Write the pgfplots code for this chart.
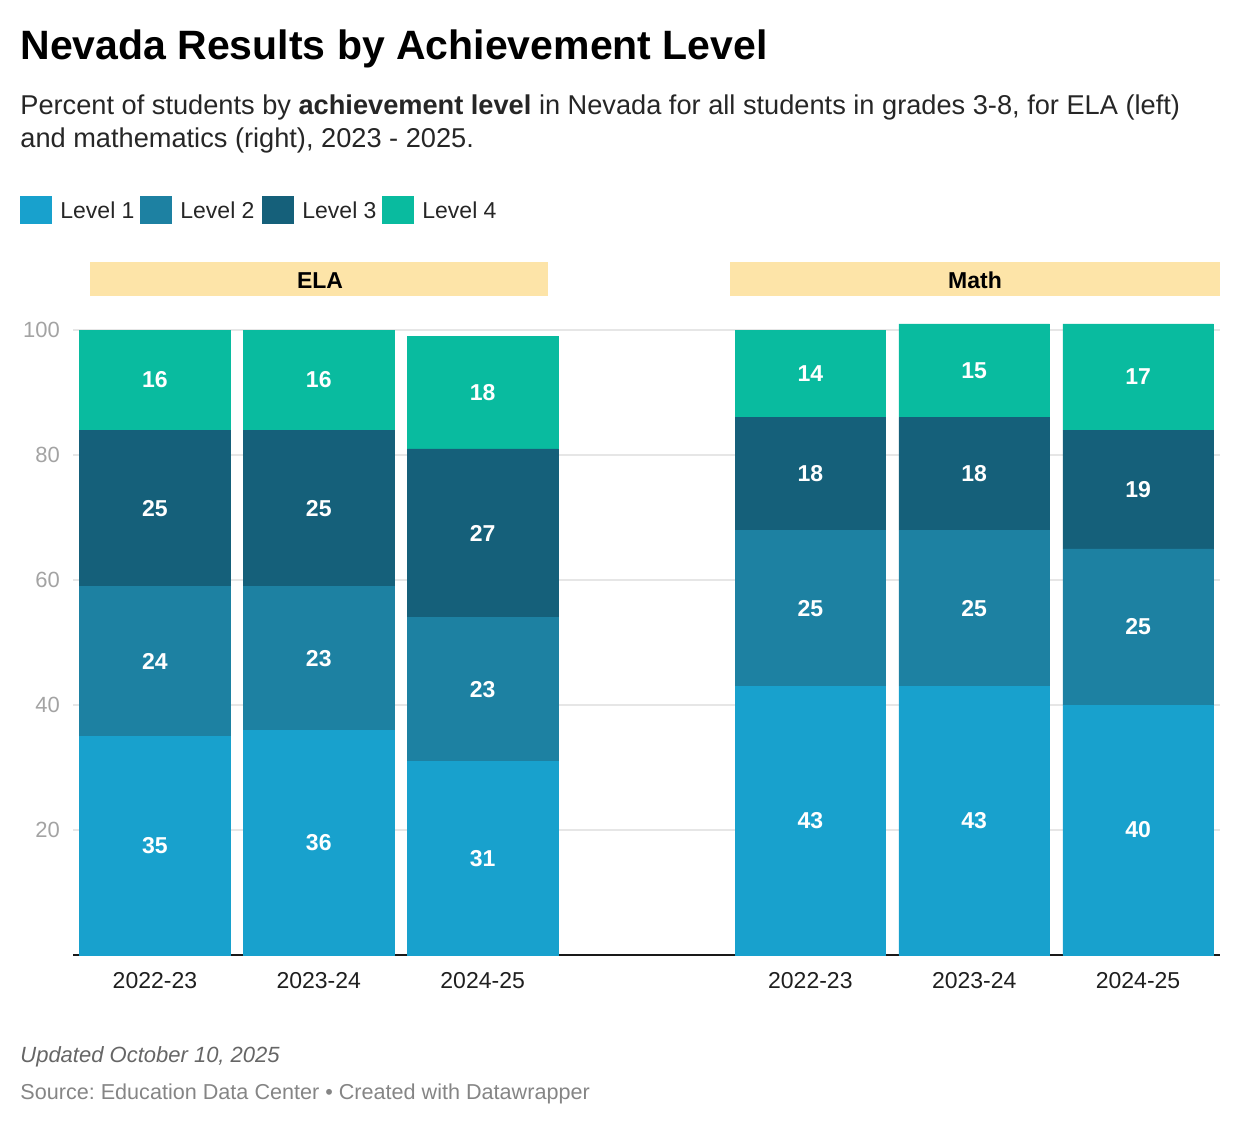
\documentclass[border=0pt]{standalone}
\usepackage{fontspec}
\setmainfont{Liberation Sans}
\usepackage{pgfplots}
\pgfplotsset{compat=1.18}
\usepackage{pgfplotstable}
\frenchspacing

\definecolor{lvA}{HTML}{18A1CD}
\definecolor{lvB}{HTML}{1D81A2}
\definecolor{lvC}{HTML}{15607A}
\definecolor{lvD}{HTML}{09BB9F}
\definecolor{panel}{HTML}{FDE4A8}
\definecolor{tickgray}{HTML}{A3A3A3}
\definecolor{gridgray}{HTML}{E6E6E6}

% x = 0..2 ELA, 4..6 Math ; a..d = level 1..4
\pgfplotstableread{
x  a  b  c  d
0  35 24 25 16
1  36 23 25 16
2  31 23 27 18
4  43 25 18 14
5  43 25 18 15
6  40 25 19 17
}\results

\begin{document}
\begin{tikzpicture}
\begin{axis}[
  at={(36.5pt,-477.5pt)}, anchor=south west,
  scale only axis, width=573.5pt, height=315.625pt,
  xmin=-0.5, xmax=6.5, ymin=0, ymax=101,
  ybar stacked, bar width=75.3pt,
  clip=false,
  axis x line*=bottom, axis y line*=left,
  y axis line style={draw=none},
  x axis line style={line width=1.2pt, color=black!90},
  major tick length=0,
  ytick={20,40,60,80,100},
  xtick={0,1,2,4,5,6},
  xticklabels={2022-23,2023-24,2024-25,2022-23,2023-24,2024-25},
  ymajorgrids, grid style={gridgray, line width=0.8pt},
  /pgf/number format/assume math mode=true,
  yticklabel style={font=\fontsize{11}{13}\selectfont, text=tickgray, xshift=-3pt},
  xticklabel style={font=\fontsize{11.5}{13}\selectfont, text=black!88, yshift=-5pt},
  % stacked bars put these labels in the middle of each segment
  nodes near coords, point meta=explicit symbolic,
  every node near coord/.append style={anchor=center, text=white,
    font=\fontsize{11.5}{13}\selectfont\bfseries},
]
\addplot[fill=lvA, draw=lvA, line width=0.2pt] table[x=x, y=a, meta=a] {\results};
\addplot[fill=lvB, draw=lvB, line width=0.2pt] table[x=x, y=b, meta=b] {\results};
\addplot[fill=lvC, draw=lvC, line width=0.2pt] table[x=x, y=c, meta=c] {\results};
\addplot[fill=lvD, draw=lvD, line width=0.2pt] table[x=x, y=d, meta=d] {\results};
\end{axis}

\begin{scope}[x=0.5pt, y=-0.5pt, every node/.style={inner sep=0pt}]
\path[use as bounding box] (0,0) rectangle (1240,1124);
% title and subtitle
\node[anchor=base west, font=\fontsize{20.5}{24}\selectfont\bfseries] at (20,59.5)
  {Nevada Results by Achievement Level};
\node[anchor=base west, font=\fontsize{13.6}{16}\selectfont, text=black!85] at (20,114)
  {Percent of students by \textbf{achievement level} in Nevada for all students in grades 3-8, for ELA (left)};
\node[anchor=base west, font=\fontsize{13.6}{16}\selectfont, text=black!85] at (20,147)
  {and mathematics (right), 2023 - 2025.};
% legend
\fill[lvA] (20,196) rectangle (52,224);
\node[anchor=base west, font=\fontsize{11.5}{13}\selectfont, text=black!85] at (60,218) {Level 1};
\fill[lvB] (140,196) rectangle (172,224);
\node[anchor=base west, font=\fontsize{11.5}{13}\selectfont, text=black!85] at (180,218) {Level 2};
\fill[lvC] (262,196) rectangle (294,224);
\node[anchor=base west, font=\fontsize{11.5}{13}\selectfont, text=black!85] at (302,218) {Level 3};
\fill[lvD] (382,196) rectangle (414,224);
\node[anchor=base west, font=\fontsize{11.5}{13}\selectfont, text=black!85] at (422,218) {Level 4};
% panel headers
\fill[panel] (90,262) rectangle (548,296);
\node[anchor=base, font=\fontsize{11.5}{13}\selectfont\bfseries] at (320,288) {ELA};
\fill[panel] (730,262) rectangle (1220,296);
\node[anchor=base, font=\fontsize{11.5}{13}\selectfont\bfseries] at (975,288) {Math};
% footer
\node[anchor=base west, font=\fontsize{11}{13}\selectfont\itshape, text=black!60] at (20,1062)
  {Updated October 10, 2025};
\node[anchor=base west, font=\fontsize{10.8}{13}\selectfont, text=black!48] at (20,1099)
  {Source: Education Data Center • Created with Datawrapper};
\end{scope}
\end{tikzpicture}
\end{document}
